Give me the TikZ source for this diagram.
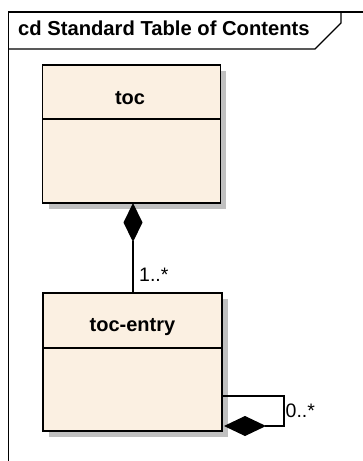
\documentclass[tikz,border=0pt]{standalone}
\usepackage{fontspec}
\setmainfont{Liberation Sans}
\usetikzlibrary{arrows.meta}
\definecolor{classfill}{RGB}{251,240,226}
\definecolor{shadowgray}{RGB}{192,192,192}
\begin{document}
\begin{tikzpicture}[x=1pt,y=-1pt,
  framelinestyle/.style={line width=1.4pt,black},
  classbox/.style={draw=black,line width=1.5pt,fill=classfill,rectangle,inner sep=0pt,
    minimum width=178pt,minimum height=138pt},
  classname/.style={font=\fontsize{20}{22}\selectfont\bfseries,anchor=base,inner sep=0pt},
  multlabel/.style={font=\fontsize{19.5}{22}\selectfont,anchor=base west,inner sep=0pt},
  assoc/.style={line width=1.2pt,black},
  shadowbox/.style={fill=shadowgray,draw=none}]
\useasboundingbox (0,0) rectangle (363,461);
\fill[white] (0,0) rectangle (363,461);
% frame
\coordinate (fTL) at (8.5,12);
\draw[framelinestyle] (8.5,461) -- (fTL) -- (363,12);
\draw[framelinestyle] (341,12) -- (341,23) -- (315,49) -- (8.5,49);
\node[anchor=base west,inner sep=0pt,font=\fontsize{20.2}{22}\selectfont\bfseries] (title) at (18,35) {cd Standard Table of Contents};
% shadows
\fill[shadowgray] (49,71) rectangle (226,209);
\fill[shadowgray] (49,299) rectangle (228,437);
% classes
\node[classbox] (toc) at (131.5,134) {};
\draw[line width=1.5pt] (43,119) -- (220,119);
\node[classname] (tocname) at (130,104) {toc};
\node[classbox,minimum width=179pt] (entry) at (132.5,362) {};
\draw[line width=1.5pt] (43,348) -- (222,348);
\node[classname] (entryname) at (132.5,331) {toc-entry};
% composition toc <>-- toc-entry
\coordinate (c1top) at (133,203);
\coordinate (c1bot) at (133,293);
\draw[assoc,-{Diamond[length=39pt,width=19pt,fill=black]}] (c1bot) -- (c1top);
\node[multlabel] (m1) at (139,281) {1..*};
% self composition
\coordinate (s1) at (222,396);
\coordinate (s2) at (284,396);
\coordinate (s3) at (284,426);
\coordinate (s4) at (224,426);
\draw[assoc,-{Diamond[length=42pt,width=20pt,fill=black]}] (s1) -- (s2) -- (s3) -- (s4);
\node[multlabel] (m2) at (285.5,417) {0..*};
\end{tikzpicture}
\end{document}
